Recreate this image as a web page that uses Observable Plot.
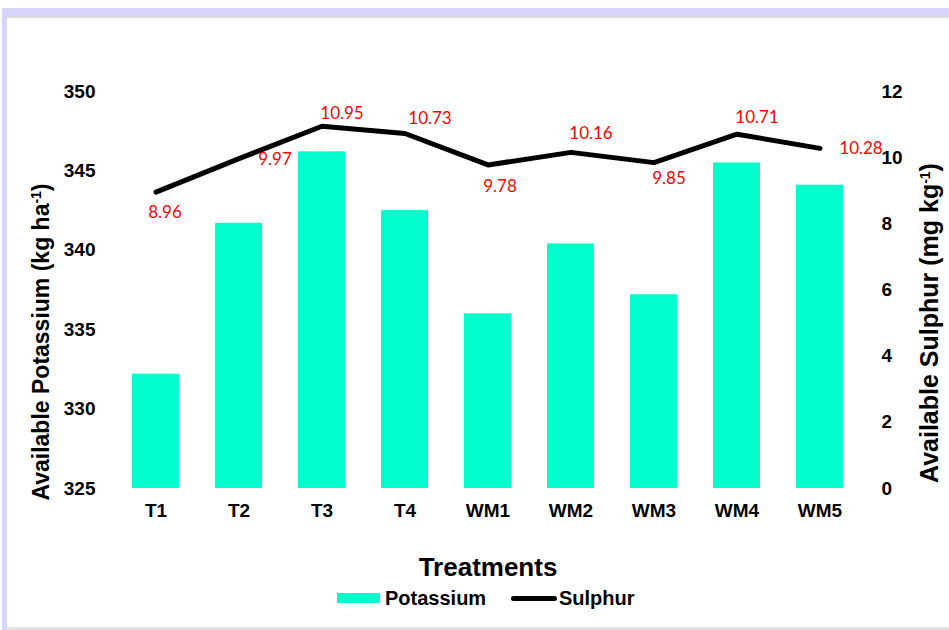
<!DOCTYPE html>
<html>
<head>
<meta charset="utf-8">
<script src="https://cdn.jsdelivr.net/npm/d3@7"></script>
<script src="https://cdn.jsdelivr.net/npm/@observablehq/plot@0.6"></script>
<style>
  body { margin: 0; background: #fff; }
  #wrap { position: relative; width: 949px; height: 630px; overflow: hidden; background: #fff;
          font-family: "Liberation Sans", Arial, sans-serif; }
  .deco { position: absolute; }
  #bandTop { left: 2px; top: 8px; width: 947px; height: 8px; background: #d5d5fb; }
  #bandTopLine { left: 7px; top: 16px; width: 942px; height: 2px; background: #dcdcdc; }
  #bandLeft { left: 2px; top: 8px; width: 5px; height: 622px; background: #d5d5fb; }
  #bandBottom { left: 7px; top: 627px; width: 942px; height: 3px; background: #e0e0e0; }
  #chart { position: absolute; left: 0; top: 0; }
  #legend { position: absolute; left: 0; top: 585px; width: 949px; height: 40px; }
  .lg { position: absolute; font-weight: bold; font-size: 20px; color: #000; line-height: 20px; }
</style>
</head>
<body>
<div id="wrap">
  <div class="deco" id="bandTop"></div>
  <div class="deco" id="bandTopLine"></div>
  <div class="deco" id="bandLeft"></div>
  <div class="deco" id="bandBottom"></div>
  <div id="chart"></div>
  <div id="legend">
    <div class="deco" style="left:337px;top:8px;width:43px;height:10px;background:#00ffcc;"></div>
    <div class="lg" style="left:385px;top:3px;">Potassium</div>
    <div class="deco" style="left:511px;top:10.5px;width:46px;height:5px;background:#000;border-radius:3px;"></div>
    <div class="lg" style="left:559px;top:3px;">Sulphur</div>
  </div>
</div>
<script>
// ---- data ----
const treatments = ["T1", "T2", "T3", "T4", "WM1", "WM2", "WM3", "WM4", "WM5"];
const potassium = [332.2, 341.7, 346.2, 342.5, 336.0, 340.4, 337.2, 345.5, 344.1];
const sulphur = [8.96, 9.97, 10.95, 10.73, 9.78, 10.16, 9.85, 10.71, 10.28];
const potassiumTicks = [325, 330, 335, 340, 345, 350];
const sulphurTicks = [0, 2, 4, 6, 8, 10, 12];
const kDomain = [325, 350];
const sDomain = [0, 12];
const xTitle = "Treatments";
const leftTitle = "Available Potassium (kg ha-1)";
const rightTitle = "Available Sulphur (mg kg-1)";

// ---- styling (label placement offsets, px) ----
const labelOffsets = {
  T1: [9, 20], T2: [36, 1], T3: [20, -13], T4: [25, -15],
  WM1: [12, 22], WM2: [20, -19], WM3: [15, 16], WM4: [20, -17], WM5: [41, 0]
};

// map sulphur onto the potassium scale (secondary axis)
const s2k = s => kDomain[0] + (s - sDomain[0]) * (kDomain[1] - kDomain[0]) / (sDomain[1] - sDomain[0]);
const k2s = k => sDomain[0] + (k - kDomain[0]) * (sDomain[1] - sDomain[0]) / (kDomain[1] - kDomain[0]);

const rows = treatments.map((t, i) => ({ t, k: potassium[i], s: sulphur[i], sk: s2k(sulphur[i]) }));

const labelMarks = rows.map(d => Plot.text([d], {
  x: "t", y: "sk", text: r => r.s.toFixed(2),
  dx: labelOffsets[d.t][0], dy: labelOffsets[d.t][1],
  fill: "#ff0000", fontSize: 17, fontWeight: "normal", fontFamily: "Lato, 'Open Sans', sans-serif"
}));

const plot = Plot.plot({
  width: 949,
  height: 585,
  marginLeft: 111,
  marginRight: 85,
  marginTop: 91,
  marginBottom: 97,
  style: { fontFamily: "'Liberation Sans', Arial, sans-serif", fontWeight: "bold", fontSize: "19px", color: "#000", background: "transparent" },
  x: { type: "band", domain: treatments, paddingInner: 0.43, paddingOuter: 0.215, label: null },
  y: { domain: kDomain, label: null },
  marks: [
    Plot.barY(rows, { x: "t", y1: () => kDomain[0], y2: "k", fill: "#00ffcc" }),
    Plot.line(rows, { x: "t", y: "sk", stroke: "#000", strokeWidth: 5, strokeLinecap: "round", strokeLinejoin: "round" }),
    ...labelMarks,
    Plot.axisX({ tickSize: 0, tickPadding: 15, fontSize: 19, label: null }),
    Plot.axisY({ anchor: "left", ticks: potassiumTicks, tickSize: 0, tickPadding: 16, fontSize: 19, label: null }),
    Plot.axisY({ anchor: "right", ticks: sulphurTicks.map(s2k), tickFormat: v => String(Math.round(k2s(v))), tickSize: 0, tickPadding: 17, fontSize: 19, label: null }),
    Plot.text([xTitle], { frameAnchor: "bottom", dy: 79, fontSize: 26, lineAnchor: "middle" }),
    Plot.text([leftTitle], { frameAnchor: "left", textAnchor: "middle", dx: -70, dy: 52, rotate: -90, fontSize: 23, lineAnchor: "middle" }),
    Plot.text([rightTitle], { frameAnchor: "right", textAnchor: "middle", dx: 65, dy: 33, rotate: -90, fontSize: 25, lineAnchor: "middle" })
  ]
});

// superscript "-1" in the axis titles
d3.select(plot).selectAll("text").each(function () {
  const txt = this.textContent;
  if (txt === leftTitle || txt === rightTitle) {
    const base = txt.replace("-1)", "");
    const el = d3.select(this);
    el.selectAll("*").remove();
    el.text(null);
    el.append("tspan").text(base);
    el.append("tspan").attr("font-size", 14).attr("dy", -8).text("-1");
    el.append("tspan").attr("dy", 8).text(")");
  }
});

document.getElementById("chart").appendChild(plot);
</script>
</body>
</html>
